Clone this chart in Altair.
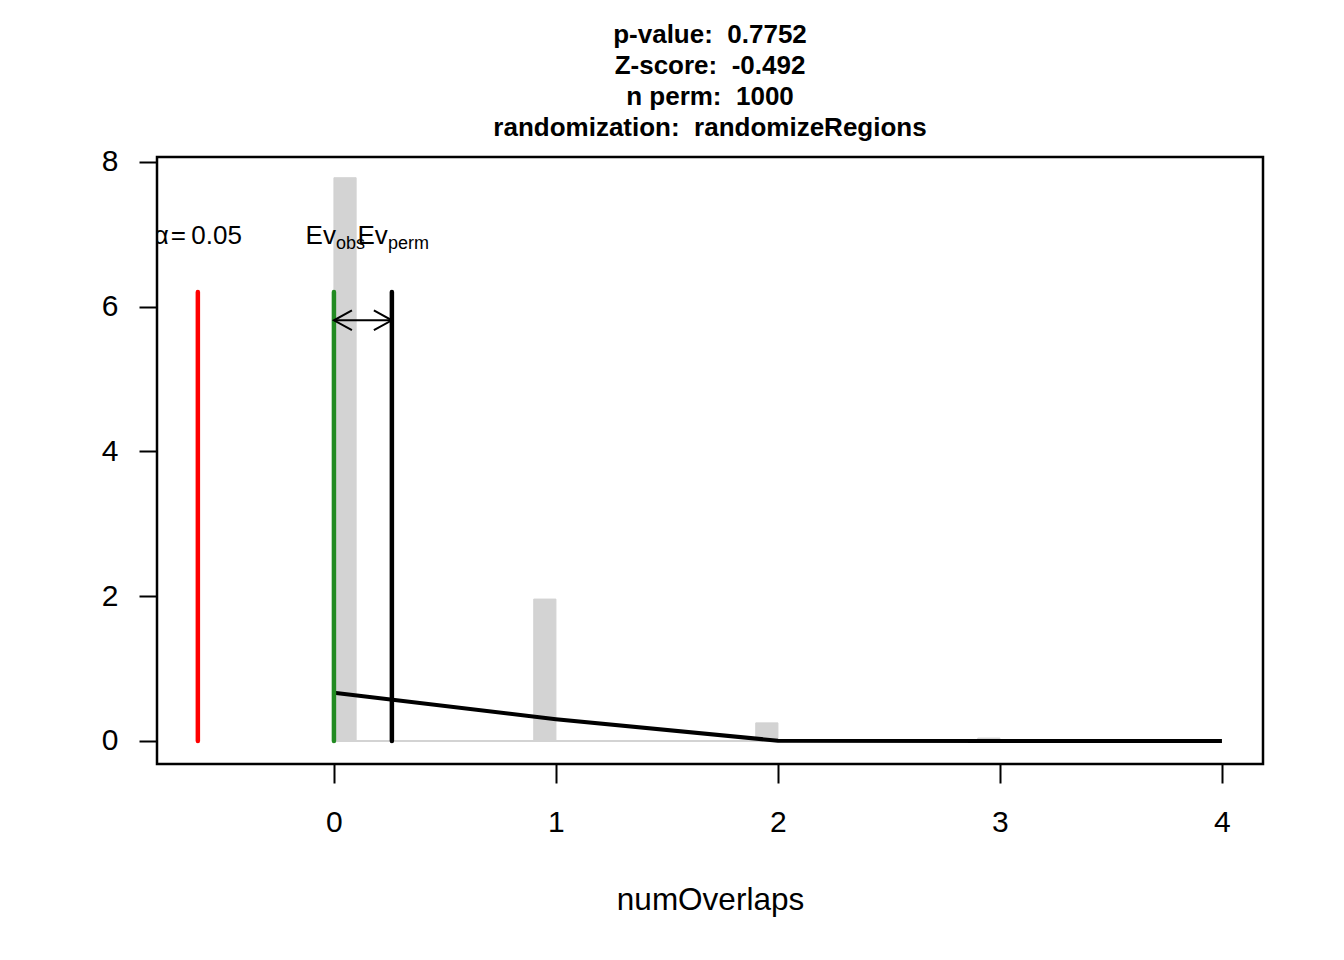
import altair as alt
import pandas as pd

# ---- data ----
# histogram (density scale) of the permuted numOverlaps
bin_start = [0.0, 0.9, 1.9, 2.9]
bin_end = [0.1, 1.0, 2.0, 3.0]
bin_density = [7.78, 1.96, 0.25, 0.04]
hist_range = [0.0, 3.0]

# fitted normal density curve
dens_x = [0, 1, 2, 3, 4]
dens_y = [0.665, 0.30, 0.0035, 0.0, 0.0]

# reference lines
alpha_x = -0.613
ev_obs = 0.0
ev_perm = 0.261
line_top = 6.2
arrow_y = 5.81
label_y = 6.86

NB = "\u00a0"
title_lines = ["p-value:" + NB + NB + "0.7752",
               "Z-score:" + NB + NB + "-0.492",
               "n perm:" + NB + NB + "1000",
               "randomization:" + NB + NB + "randomizeRegions"]
x_ticks = [0, 1, 2, 3, 4]
y_ticks = [0, 2, 4, 6, 8]
x_domain = [-0.797, 4.185]
y_domain = [-0.318, 8.066]

FONT = "Liberation Sans"
GRAY = "#D3D3D3"

xs = alt.Scale(domain=x_domain, nice=False, zero=False)
ys = alt.Scale(domain=y_domain, nice=False, zero=False)
x_axis = alt.Axis(values=x_ticks, title="numOverlaps", grid=False, domain=False,
                  ticks=True, tickSize=19, tickWidth=2, tickColor="black",
                  labelFontSize=30, labelColor="black", labelPadding=24,
                  labelFont=FONT, titleFont=FONT, titleFontSize=31.5,
                  titleFontWeight="normal", titleColor="black", titlePadding=47,
                  format="d", labelFlush=False)
y_axis = alt.Axis(values=y_ticks, title=None, grid=False, domain=False,
                  ticks=True, tickSize=18, tickWidth=2, tickColor="black",
                  labelFontSize=30, labelColor="black", labelPadding=21,
                  labelFont=FONT, format="d", labelFlush=False)


def X(f):
    return alt.X(f, type="quantitative", scale=xs, axis=x_axis)


def Y(f):
    return alt.Y(f, type="quantitative", scale=ys, axis=y_axis)


hist_df = pd.DataFrame({"start": bin_start, "end": bin_end, "dens": bin_density})
hist = alt.Chart(hist_df).mark_rect(color=GRAY, stroke=GRAY, strokeWidth=1).encode(
    x=X("start"), x2="end", y=Y("dens"), y2=alt.datum(0))

base_df = pd.DataFrame({"a": [hist_range[0]], "b": [hist_range[1]], "z": [0.0]})
baseline = alt.Chart(base_df).mark_rule(color=GRAY, strokeWidth=2).encode(
    x=X("a"), x2="b", y=Y("z"))

dens_df = pd.DataFrame({"x": dens_x, "y": dens_y})
dens = alt.Chart(dens_df).mark_line(color="black", strokeWidth=4).encode(
    x=X("x"), y=Y("y"))

vl_df = pd.DataFrame({"x": [alpha_x, ev_obs, ev_perm],
                      "top": [line_top] * 3,
                      "z": [0.0] * 3,
                      "col": ["#FF0000", "#228B22", "#000000"]})
vlines = alt.Chart(vl_df).mark_rule(strokeWidth=4.5, strokeCap="round").encode(
    x=X("x"), y=Y("z"), y2="top", color=alt.Color("col", scale=None))

arr_df = pd.DataFrame({"a": [ev_obs], "b": [ev_perm], "y": [arrow_y]})
shaft = alt.Chart(arr_df).mark_rule(strokeWidth=2, color="black").encode(
    x=X("a"), x2="b", y=Y("y"))
head_l = alt.Chart(arr_df).mark_point(
    shape="M1,-0.55L0,0L1,0.55", filled=False, size=1296, strokeWidth=2,
    color="black", opacity=1).encode(x=X("a"), y=Y("y"))
head_r = alt.Chart(arr_df).mark_point(
    shape="M-1,-0.55L0,0L-1,0.55", filled=False, size=1296, strokeWidth=2,
    color="black", opacity=1).encode(x=X("b"), y=Y("y"))

alpha_df = pd.DataFrame({"x": [alpha_x], "y": [label_y],
                         "t": ["\u03b1\u200a=\u20090.05"]})
alpha_txt = alt.Chart(alpha_df).mark_text(
    font=FONT, fontSize=26, align="right", baseline="alphabetic", dx=44,
    color="black", clip=True).encode(x=X("x"), y=Y("y"), text="t")

obs_df = pd.DataFrame({"x": [ev_obs], "y": [label_y], "t": ["Ev"], "s": ["obs"]})
perm_df = pd.DataFrame({"x": [ev_perm], "y": [label_y], "t": ["Ev"], "s": ["perm"]})
obs_main = alt.Chart(obs_df).mark_text(
    font=FONT, fontSize=26, align="right", baseline="alphabetic", dx=2,
    color="black").encode(x=X("x"), y=Y("y"), text="t")
obs_sub = alt.Chart(obs_df).mark_text(
    font=FONT, fontSize=18, align="left", baseline="alphabetic", dx=2, dy=5,
    color="black").encode(x=X("x"), y=Y("y"), text="s")
perm_main = alt.Chart(perm_df).mark_text(
    font=FONT, fontSize=26, align="right", baseline="alphabetic", dx=-4,
    color="black").encode(x=X("x"), y=Y("y"), text="t")
perm_sub = alt.Chart(perm_df).mark_text(
    font=FONT, fontSize=18, align="left", baseline="alphabetic", dx=-4, dy=5,
    color="black").encode(x=X("x"), y=Y("y"), text="s")

chart = alt.layer(
    hist, baseline, dens, vlines, shaft, head_l, head_r,
    alpha_txt, obs_main, obs_sub, perm_main, perm_sub
).properties(
    width=1106, height=607,
    title=alt.TitleParams(text=title_lines, fontSize=26, fontWeight="bold",
                          lineHeight=31, anchor="middle", font=FONT,
                          color="black", offset=6),
    autosize=alt.AutoSizeParams(type="none"),
    padding={"left": 149, "top": 149, "right": 60, "bottom": 180},
).configure(background="white").configure_view(stroke="black", strokeWidth=2.5)

chart.save("out.html", embed_options={"renderer": "svg", "actions": False})
